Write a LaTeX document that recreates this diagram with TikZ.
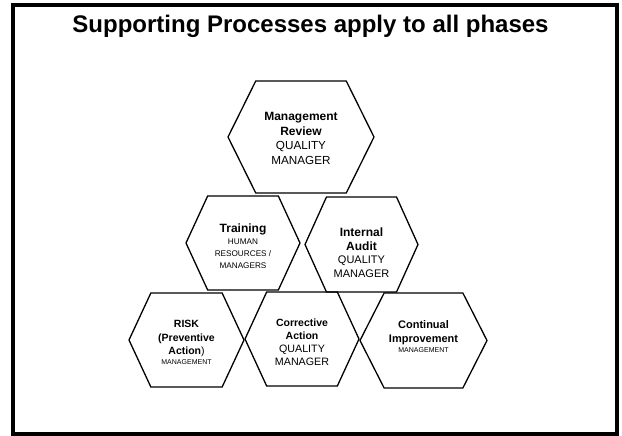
\documentclass[tikz,border=0pt]{standalone}
\usepackage{fontspec}
\setmainfont{Liberation Sans}
\usetikzlibrary{positioning,calc}
\tikzset{
    heading/.style={
        anchor=base,
        inner sep=0pt,
        font=\bfseries\fontsize{24}{28}\selectfont
    },
    cell/.style={
        align=center,
        inner sep=0pt
    },
    hexline/.style={
        draw=black,
        line width=1.3pt,
        line join=miter
    }
}
% hexagon round a coordinate: name, half width, half height
\newcommand{\hexframe}[3]{%
  \draw[hexline] ($(#1)+(-#2,0)$) -- ($(#1)+(-0.62*#2,-#3)$)
    -- ($(#1)+(0.62*#2,-#3)$) -- ($(#1)+(#2,0)$)
    -- ($(#1)+(0.62*#2,#3)$) -- ($(#1)+(-0.62*#2,#3)$) -- cycle;}
\newcommand{\tagsize}{\fontsize{8.2}{9.5}\selectfont}
\newcommand{\tinysize}{\fontsize{7}{8}\selectfont}

\begin{document}
\begin{tikzpicture}[x=1pt,y=-1pt]
  \useasboundingbox (0,0) rectangle (622,436);
  \draw[line width=4pt] (13,5) rectangle (617,433.5);
  \node[heading] (title) at (310.5,33) {Supporting Processes apply to all phases};

  % centres of the cells
  \coordinate (review) at (301,137);
  \coordinate (training) at (243,243);
  \coordinate (audit) at (361.5,244.5);
  \coordinate (risk) at (186.5,340);
  \coordinate (corrective) at (302,339);
  \coordinate (improve) at (423.5,340.5);

  \hexframe{review}{73}{56}
  \hexframe{training}{57}{47}
  \hexframe{audit}{56.5}{47.5}
  \hexframe{risk}{57.5}{47}
  \hexframe{corrective}{57}{47}
  \hexframe{improve}{63.5}{47.5}

  \node[cell, font=\fontsize{12}{14.4}\selectfont] (review-text) at (301,138.5)
    {\bfseries Management\\\bfseries Review\\\fontsize{11.7}{14}\selectfont QUALITY\\\fontsize{11.7}{14}\selectfont MANAGER};
  \node[cell, font=\fontsize{12}{11.8}\selectfont] (training-text) at (243,246)
    {\bfseries Training\\\tagsize HUMAN\\\tagsize RESOURCES /\\\tagsize MANAGERS};
  \node[cell, font=\fontsize{12}{13.5}\selectfont] (audit-text) at (361.5,252.5)
    {\bfseries Internal\\\bfseries Audit\\\fontsize{11}{13}\selectfont QUALITY\\\fontsize{11}{13}\selectfont MANAGER};
  \node[cell, font=\fontsize{10.5}{13}\selectfont] (risk-text) at (186.5,342)
    {\bfseries RISK\\[1pt]\bfseries (Preventive\\\bfseries Action\mdseries)\\[-3pt]\tinysize MANAGEMENT};
  \node[cell, font=\fontsize{10.5}{13}\selectfont] (corrective-text) at (302,342.5)
    {\bfseries Corrective\\\bfseries Action\\\fontsize{10.7}{13}\selectfont QUALITY\\\fontsize{10.7}{13}\selectfont MANAGER};
  \node[cell, font=\fontsize{11}{14}\selectfont] (improve-text) at (423.5,337)
    {\bfseries Continual\\\bfseries Improvement\\[-4pt]\tinysize MANAGEMENT};
\end{tikzpicture}
\end{document}
